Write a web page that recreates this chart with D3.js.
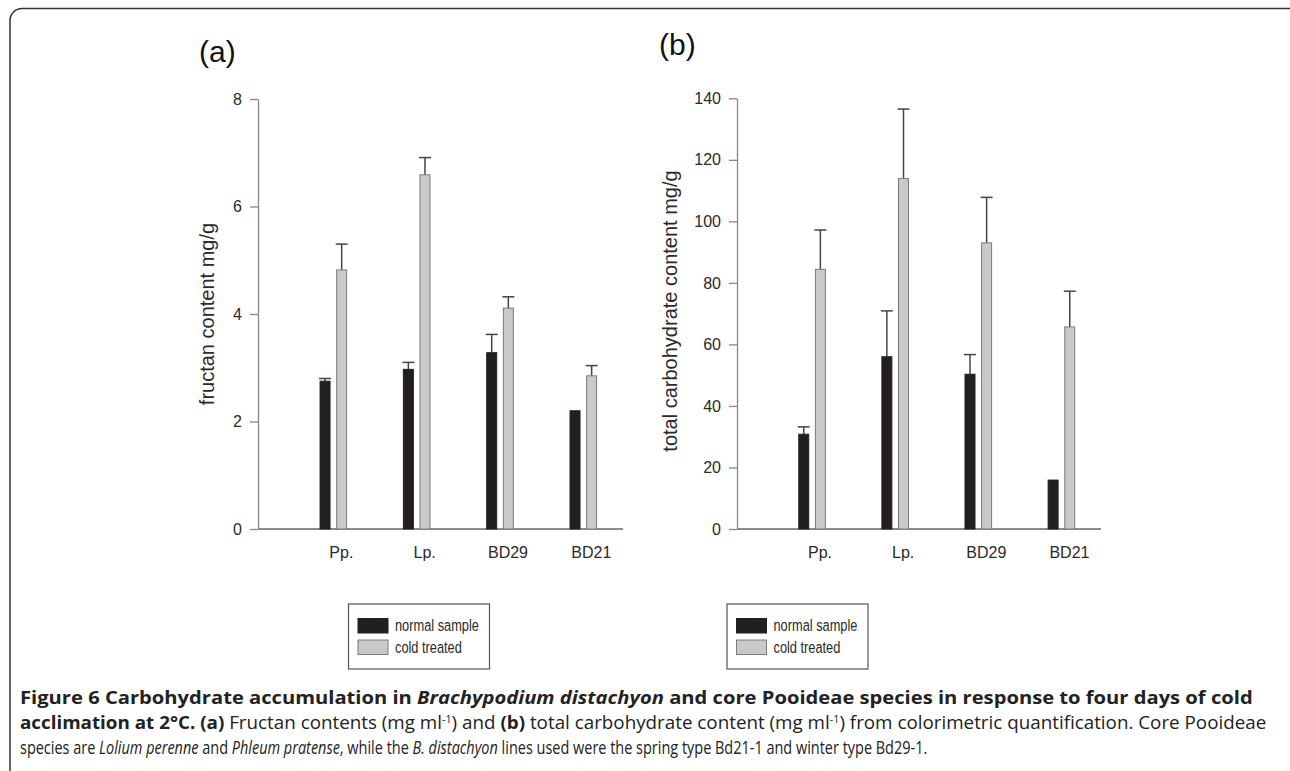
<!DOCTYPE html>
<html>
<head>
<meta charset="utf-8">
<script src="https://cdn.jsdelivr.net/npm/d3@7"></script>
<style>
  body { margin: 0; background: #fff; }
  svg { display: block; }
  .tick text { font-family: "Liberation Sans", Arial, sans-serif; }
</style>
</head>
<body>
<svg id="canvas" width="1290" height="771"></svg>
<script>
// categories and series
const categories = ['Pp.', 'Lp.', 'BD29', 'BD21'];
const seriesNames = ['normal sample', 'cold treated'];

// (a) fructan content mg/g
const fructanNormal = [2.75, 2.97, 3.28, 2.20];
const fructanNormalErr = [0.05, 0.13, 0.34, 0];
const fructanCold = [4.82, 6.59, 4.11, 2.85];
const fructanColdErr = [0.48, 0.32, 0.21, 0.19];
const fructanTicks = [0, 2, 4, 6, 8];

// (b) total carbohydrate content mg/g
const carbNormal = [30.8, 56.0, 50.3, 15.9];
const carbNormalErr = [2.4, 14.9, 6.4, 0];
const carbCold = [84.4, 113.9, 93.0, 65.7];
const carbColdErr = [12.8, 22.6, 14.8, 11.6];
const carbTicks = [0, 20, 40, 60, 80, 100, 120, 140];

const colors = {'normal sample': '#231f20', 'cold treated': '#c8c9cb'};
const strokes = {'normal sample': '#231f20', 'cold treated': '#7a7a7a'};

const svg = d3.select('#canvas');

//horizontal squeeze around x0
function squeeze(sel, x0, k){
    sel.attr('transform', 'translate(' + x0 + ',0) scale(' + k + ',1) translate(' + (-x0) + ',0)');
}

// outer frame with rounded corners
svg.append('rect')
    .attr('x', 10).attr('y', 8.5)
    .attr('width', 1300).attr('height', 780)
    .attr('rx', 12)
    .attr('fill', 'none')
    .attr('stroke', '#333')
    .attr('stroke-width', 1.5);

function drawPanel(p){
    let g = svg.append('g');

    let y = d3.scaleLinear()
        .domain([0, p.ticks[p.ticks.length - 1]])
        .range([529, p.yTop]);

    let x = d3.scaleBand()
        .domain(categories)
        .range([p.bandStart, p.bandEnd]);

    //two bars inside every group
    let inner = d3.scaleBand()
        .domain(seriesNames)
        .range([-13.3, 13.3])
        .paddingInner(0.4);

    // x axis line at zero
    g.append('line')
        .attr('x1', p.axisX).attr('x2', p.axisEnd)
        .attr('y1', y(0)).attr('y2', y(0))
        .attr('stroke', '#666').attr('stroke-width', 1.3);

    let yAxis = g.append('g')
        .attr('transform', 'translate(' + p.axisX + ',0)')
        .call(d3.axisLeft(y)
              .tickValues(p.ticks)
              .tickFormat(d3.format('d'))
              .tickSize(8)
              .tickSizeOuter(0)
              .tickPadding(8));
    yAxis.select('.domain').attr('stroke', '#888').attr('stroke-width', 1.3);
    yAxis.selectAll('.tick line').attr('stroke', '#888').attr('stroke-width', 1.3);
    yAxis.selectAll('.tick text')
        .attr('font-size', 16)
        .attr('fill', '#2a2a2a');

    // category labels (sit a little right of the bar groups, as in the original)
    g.selectAll('text.cat')
        .data(categories)
        .join('text')
        .attr('class', 'cat')
        .attr('x', d => x(d) + x.bandwidth() / 2 + 8)
        .attr('y', 558)
        .attr('text-anchor', 'middle')
        .attr('font-family', '"Liberation Sans", Arial, sans-serif')
        .attr('font-size', 16)
        .attr('fill', '#2a2a2a')
        .text(d => d);

    // flatten into bar records
    let bars = [];
    categories.forEach((c, i) => {
        bars.push({cat: c, s: seriesNames[0], v: p.normal[i], e: p.normalErr[i]});
        bars.push({cat: c, s: seriesNames[1], v: p.cold[i], e: p.coldErr[i]});
    });
    let cx = d => x(d.cat) + x.bandwidth() / 2 + inner(d.s);

    // error bars first so the bars sit over them
    let errs = bars.filter(d => d.e > 0);
    g.selectAll('line.err')
        .data(errs)
        .join('line')
        .attr('class', 'err')
        .attr('x1', d => cx(d) + inner.bandwidth() / 2)
        .attr('x2', d => cx(d) + inner.bandwidth() / 2)
        .attr('y1', d => y(d.v))
        .attr('y2', d => y(d.v + d.e))
        .attr('stroke', '#444').attr('stroke-width', 1.5);
    g.selectAll('line.cap')
        .data(errs)
        .join('line')
        .attr('class', 'cap')
        .attr('x1', d => cx(d) - 1)
        .attr('x2', d => cx(d) + inner.bandwidth() + 1)
        .attr('y1', d => y(d.v + d.e))
        .attr('y2', d => y(d.v + d.e))
        .attr('stroke', '#444').attr('stroke-width', 1.5);

    g.selectAll('rect.bar')
        .data(bars)
        .join('rect')
        .attr('class', 'bar')
        .attr('x', d => cx(d))
        .attr('y', d => y(d.v))
        .attr('width', inner.bandwidth())
        .attr('height', d => y(0) - y(d.v))
        .attr('fill', d => colors[d.s])
        .attr('stroke', d => strokes[d.s])
        .attr('stroke-width', 1);

    // panel letter
    g.append('text')
        .attr('x', p.letterX).attr('y', p.letterY)
        .attr('font-family', '"Liberation Sans", Arial, sans-serif')
        .attr('font-size', 30)
        .attr('fill', '#111')
        .text(p.letter);

    // y axis title
    g.append('text')
        .attr('transform', 'translate(' + p.titleX + ',' + p.titleY + ') rotate(-90)')
        .attr('text-anchor', 'middle')
        .attr('font-family', '"Liberation Sans", Arial, sans-serif')
        .attr('font-size', 20)
        .attr('fill', '#2a2a2a')
        .text(p.title);

    // legend box
    let lg = g.append('g').attr('transform', 'translate(' + p.legendX + ',604)');
    lg.append('rect')
        .attr('x', 0).attr('y', 0)
        .attr('width', 141).attr('height', 65)
        .attr('fill', 'none').attr('stroke', '#555').attr('stroke-width', 1.2);
    let items = lg.selectAll('g.item')
        .data(seriesNames)
        .join('g')
        .attr('class', 'item')
        .attr('transform', (d, i) => 'translate(9.5,' + (14.5 + i * 21.5) + ')');
    items.append('rect')
        .attr('width', 30).attr('height', 14.5)
        .attr('fill', d => colors[d])
        .attr('stroke', d => strokes[d]).attr('stroke-width', 1);
    let labels = items.append('text')
        .attr('x', 37).attr('y', 12.5)
        .attr('font-family', '"Liberation Sans", Arial, sans-serif')
        .attr('font-size', 16.5)
        .attr('fill', '#2a2a2a')
        .text(d => d);
    //the legend uses a narrow face: squeeze both labels by the same amount
    let k = 84 / labels.nodes()[0].getComputedTextLength();
    squeeze(labels, 37, k);
}

drawPanel({
    letter: '(a)', letterX: 199, letterY: 62,
    title: 'fructan content mg/g', titleX: 214, titleY: 314,
    ticks: fructanTicks, yTop: 99,
    normal: fructanNormal, normalErr: fructanNormalErr,
    cold: fructanCold, coldErr: fructanColdErr,
    axisX: 258, axisEnd: 623, bandStart: 291.7, bandEnd: 625,
    legendX: 348.5
});

drawPanel({
    letter: '(b)', letterX: 659, letterY: 55,
    title: 'total carbohydrate content mg/g', titleX: 677, titleY: 311,
    ticks: carbTicks, yTop: 98.3,
    normal: carbNormal, normalErr: carbNormalErr,
    cold: carbCold, coldErr: carbColdErr,
    axisX: 737, axisEnd: 1101, bandStart: 770.5, bandEnd: 1103,
    legendX: 727
});

// caption, one text element per line, segments with their style
const captionLines = [
    {y: 704, len: 1233, parts: [
        ['Figure 6 Carbohydrate accumulation in ', 'b'],
        ['Brachypodium distachyon', 'bi'],
        [' and core Pooideae species in response to four days of cold', 'b']]},
    {y: 729, len: 1247, parts: [
        ['acclimation at 2°C. ', 'b'],
        ['(a)', 'b'],
        [' Fructan contents (mg ml', ''],
        ['-1', 'sup'],
        [') and ', ''],
        ['(b)', 'b'],
        [' total carbohydrate content (mg ml', ''],
        ['-1', 'sup'],
        [') from colorimetric quantification. Core Pooideae', '']]},
    {y: 754, len: 908, parts: [
        ['species are ', ''],
        ['Lolium perenne', 'i'],
        [' and ', ''],
        ['Phleum pratense', 'i'],
        [', while the ', ''],
        ['B. distachyon', 'i'],
        [' lines used were the spring type Bd21-1 and winter type Bd29-1.', '']]}
];

captionLines.forEach(line => {
    let t = svg.append('text')
        .attr('x', 20).attr('y', line.y)
        .attr('font-family', '"Open Sans", sans-serif')
        .attr('font-size', 17.5)
        .attr('fill', '#222');
    line.parts.forEach(part => {
        let s = t.append('tspan').text(part[0]);
        if(part[1].includes('b')) s.attr('font-weight', 'bold');
        if(part[1].includes('i')) s.attr('font-style', 'italic');
        if(part[1] == 'sup'){
            s.attr('font-size', 10).attr('baseline-shift', '6');
        }
    });
    squeeze(t, 20, line.len / t.node().getComputedTextLength());
});
</script>
</body>
</html>
